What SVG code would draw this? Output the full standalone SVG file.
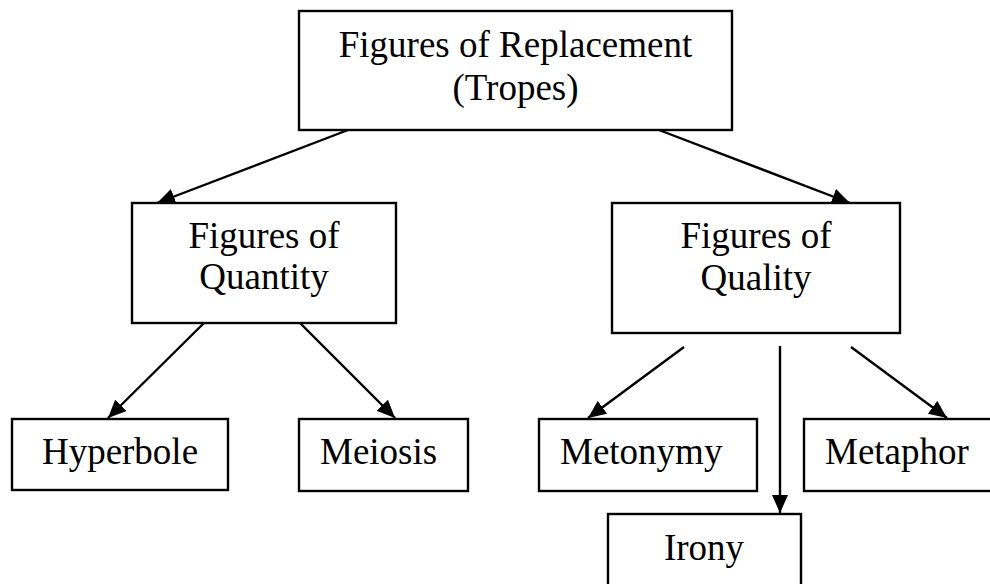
<svg xmlns="http://www.w3.org/2000/svg" width="990" height="584" viewBox="0 0 990 584">
  <style>
    .box { fill: #ffffff; stroke: #000000; stroke-width: 2.4; }
    .lbl { font-family: "Liberation Serif", "Times New Roman", serif; font-size: 37px; fill: #000000; }
    .mid { text-anchor: middle; }
    .edge { stroke: #000000; stroke-width: 2.4; fill: none; marker-end: url(#arrow); }
  </style>
  <defs>
    <marker id="arrow" markerUnits="userSpaceOnUse" markerWidth="19" markerHeight="16" refX="18" refY="8" orient="auto">
      <path d="M0,0 L18,8 L0,16 z" fill="#000000"/>
    </marker>
  </defs>
  <rect width="990" height="584" fill="#ffffff"/>

  <!-- tree connectors -->
  <g id="connectors">
    <line class="edge" x1="348" y1="130" x2="157" y2="203"/>
    <line class="edge" x1="659" y1="130" x2="850" y2="203"/>
    <line class="edge" x1="204" y1="323" x2="108" y2="418"/>
    <line class="edge" x1="300" y1="323" x2="395" y2="418"/>
    <line class="edge" x1="684" y1="347" x2="588" y2="418"/>
    <line class="edge" x1="780" y1="346" x2="780" y2="513"/>
    <line class="edge" x1="851" y1="347" x2="947" y2="418"/>
  </g>

  <g id="tropes">
    <rect class="box" x="299" y="11" width="433" height="119"/>
    <text class="lbl mid" x="515.5" y="57">Figures of Replacement</text>
    <text class="lbl mid" x="515.5" y="100">(Tropes)</text>
  </g>

  <g id="quantity">
    <rect class="box" x="132" y="203" width="264" height="120"/>
    <text class="lbl mid" x="264" y="248">Figures of</text>
    <text class="lbl mid" x="264" y="289">Quantity</text>
  </g>

  <g id="quality">
    <rect class="box" x="612" y="203" width="288" height="130"/>
    <text class="lbl mid" x="756" y="248">Figures of</text>
    <text class="lbl mid" x="756" y="290">Quality</text>
  </g>

  <g id="hyperbole">
    <rect class="box" x="12" y="419" width="216" height="71"/>
    <text class="lbl mid" x="120" y="464">Hyperbole</text>
  </g>

  <g id="meiosis">
    <rect class="box" x="299" y="419" width="169" height="72"/>
    <text class="lbl" x="320" y="464">Meiosis</text>
  </g>

  <g id="metonymy">
    <rect class="box" x="539" y="419" width="218" height="72"/>
    <text class="lbl" x="560" y="464">Metonymy</text>
  </g>

  <g id="metaphor">
    <rect class="box" x="804" y="419" width="200" height="72"/>
    <text class="lbl" x="825" y="464">Metaphor</text>
  </g>

  <g id="irony">
    <rect class="box" x="608" y="514" width="193" height="90"/>
    <text class="lbl mid" x="704" y="560">Irony</text>
  </g>
</svg>
